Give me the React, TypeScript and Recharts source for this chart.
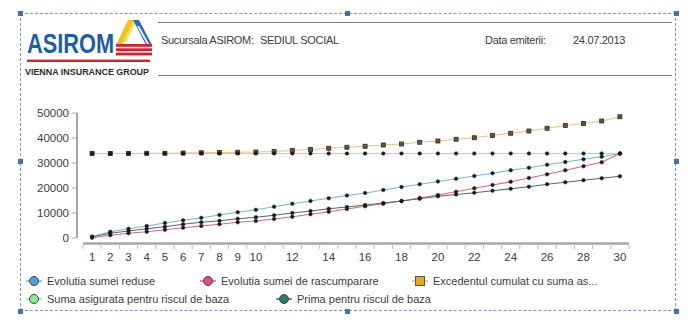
import { LineChart, Line, XAxis, YAxis, Legend } from "recharts";

// ani de asigurare
const YEARS = [1, 2, 3, 4, 5, 6, 7, 8, 9, 10, 11, 12, 13, 14, 15, 16, 17, 18, 19, 20, 21, 22, 23, 24, 25, 26, 27, 28, 29, 30];
const X_LABELS = [1, 2, 3, 4, 5, 6, 7, 8, 9, 10, 12, 14, 16, 18, 20, 22, 24, 26, 28, 30];
const Y_TICKS = [0, 10000, 20000, 30000, 40000, 50000];

const REDUSE = [500, 2500, 3700, 4800, 6000, 7100, 8100, 9200, 10300, 11300, 12500, 13700, 14800, 15900, 17000, 18000, 19200, 20400, 21500, 22600, 23700, 24800, 25900, 27100, 28100, 29300, 30400, 31500, 32500, 33800];
const RASCUMPARARE = [100, 1100, 1900, 2500, 3300, 4100, 4800, 5500, 6300, 6800, 7600, 8500, 9500, 10500, 11600, 12700, 13700, 14800, 16000, 17200, 18500, 19900, 21200, 22500, 24000, 25500, 27100, 28700, 30300, 33800];
const EXCEDENT = [33800, 33800, 33800, 33900, 33900, 34000, 34100, 34200, 34300, 34400, 34600, 35000, 35400, 35900, 36300, 36700, 37200, 37600, 38300, 38800, 39500, 40100, 41000, 41900, 42800, 43900, 45000, 45800, 46800, 48500];
const SUMA_ASIGURATA = [33800, 33800, 33800, 33800, 33800, 33800, 33800, 33800, 33800, 33800, 33800, 33800, 33800, 33800, 33800, 33800, 33800, 33800, 33800, 33800, 33800, 33800, 33800, 33800, 33800, 33800, 33800, 33800, 33800, 33800];
const PRIMA = [500, 1900, 2800, 3700, 4500, 5500, 6300, 6900, 7700, 8300, 9100, 10000, 10800, 11700, 12400, 13200, 14000, 14800, 15700, 16700, 17400, 18100, 18900, 19700, 20500, 21500, 22300, 23100, 23900, 24700];

const data = YEARS.map((an, i) => ({
  an,
  reduse: REDUSE[i],
  rascumparare: RASCUMPARARE[i],
  excedent: EXCEDENT[i],
  suma: SUMA_ASIGURATA[i],
  prima: PRIMA[i],
}));

type Serie = { key: string; name: string; line: string; fill: string; square?: boolean };

const SERIES: Serie[] = [
  { key: "reduse", name: "Evolutia sumei reduse", line: "#7ab4d8", fill: "#4f9fd6" },
  { key: "rascumparare", name: "Evolutia sumei de rascumparare", line: "#e0647e", fill: "#e8506a" },
  { key: "excedent", name: "Excedentul cumulat cu suma as...", line: "#efc27c", fill: "#e9a52c", square: true },
  { key: "suma", name: "Suma asigurata pentru riscul de baza", line: "#9ee89e", fill: "#86ec86" },
  { key: "prima", name: "Prima pentru riscul de baza", line: "#4f6d66", fill: "#2f7a6a" },
];

const LEGEND_ROWS = [
  [0, 1, 2],
  [3, 4],
];
const LEGEND_WIDTHS = [
  [174, 212, 260],
  [250, 260],
];

const HALF = 9.1; // jumatate din pasul categoriei
const TXT = "#3c3c3c";
const AXIS = "#a8a8a8";

function XTick(props: any) {
  const { x, y, payload } = props;
  const v = payload.value;
  return (
    <g>
      <line x1={x - HALF} x2={x - HALF} y1={y - 8} y2={y - 4} stroke="#bdbdbd" />
      {v === 30 && <line x1={x + HALF} x2={x + HALF} y1={y - 8} y2={y - 4} stroke="#bdbdbd" />}
      {X_LABELS.includes(v) && (
        <text x={x} y={y} dy="0.71em" textAnchor="middle" fill={TXT} fontSize={11.5}>
          {v}
        </text>
      )}
    </g>
  );
}

function Marker({ s }: { s: Serie }) {
  return (
    <svg width={16} height={12} style={{ display: "block" }}>
      <line x1={0} x2={16} y1={6} y2={6} stroke={s.line} strokeWidth={1.5} />
      {s.square ? (
        <rect x={3.5} y={1.5} width={9} height={9} fill={s.fill} stroke="#555" strokeWidth={1} />
      ) : (
        <circle cx={8} cy={6} r={4.5} fill={s.fill} stroke="#444" strokeWidth={1} />
      )}
    </svg>
  );
}

function renderLegend() {
  return (
    <div style={{ paddingLeft: 26, fontSize: 11, color: TXT }}>
      {LEGEND_ROWS.map((row, r) => (
        <div key={r} style={{ display: "flex", height: 18, alignItems: "center" }}>
          {row.map((idx, j) => (
            <div key={idx} style={{ width: LEGEND_WIDTHS[r][j], display: "flex", alignItems: "center", gap: 5 }}>
              <Marker s={SERIES[idx]} />
              <span style={{ whiteSpace: "nowrap" }}>{SERIES[idx].name}</span>
            </div>
          ))}
        </div>
      ))}
    </div>
  );
}

function Logo() {
  return (
    <svg width={160} height={80} style={{ position: "absolute", left: 0, top: 0 }}>
      <text x={27} y={53} fontSize={27} fontWeight="bold" fill="#1d5ea8" textLength={87} lengthAdjust="spacingAndGlyphs">
        ASIROM
      </text>
      {/* triunghi */}
      <polygon points="128,20 134,20 122,45 116,45" fill="#f2c318" />
      <polygon points="134,20 137,20 126,42 123,42" fill="#f8db5a" />
      <polygon points="133,20 139,20 152,45 146,45" fill="#2d6db5" />
      <polygon points="137,26 139,26 149,44 147,44" fill="#ffffff" />
      <polygon points="135,31 136.5,31 144,44 142.5,44" fill="#ffffff" />
      <rect x={116} y={44} width={36} height={2.8} fill="#d8202c" />
      <rect x={116} y={48.3} width={36} height={2.8} fill="#d8202c" />
      <rect x={116} y={52.6} width={36} height={2.8} fill="#d8202c" />
      <rect x={27} y={59.6} width={123} height={2.4} fill="#d8202c" />
      <text x={25} y={74.5} fontSize={9.5} fontWeight="bold" fill="#2a2a2a" textLength={124} lengthAdjust="spacingAndGlyphs">
        VIENNA INSURANCE GROUP
      </text>
    </svg>
  );
}

const handle = (left: number, top: number) => (
  <div
    key={`${left}-${top}`}
    style={{ position: "absolute", left: left - 2.5, top: top - 2.5, width: 5, height: 5, background: "#4a6fa5" }}
  />
);

export default function App() {
  return (
    <div
      style={{
        position: "absolute",
        left: 0,
        top: 0,
        width: 700,
        height: 334,
        background: "#fff",
        fontFamily: "'Liberation Sans', Arial, sans-serif",
        color: TXT,
      }}
    >
      <div style={{ position: "absolute", left: 20, top: 13, width: 656, height: 298, border: "1px dashed #7d97c2", boxSizing: "border-box" }} />
      {[handle(20, 13), handle(347, 13), handle(676, 13), handle(20, 161), handle(676, 161), handle(20, 311), handle(347, 311), handle(676, 311)]}

      <Logo />
      <div style={{ position: "absolute", left: 158, top: 22, width: 514, height: 52, borderTop: "1.5px solid #7a7a7a", borderBottom: "1.5px solid #7a7a7a" }} />
      <div style={{ position: "absolute", left: 161, top: 34, fontSize: 11, letterSpacing: -0.3 }}>Sucursala ASIROM:</div>
      <div style={{ position: "absolute", left: 260, top: 34, fontSize: 11, letterSpacing: -0.3 }}>SEDIUL SOCIAL</div>
      <div style={{ position: "absolute", left: 485, top: 34, fontSize: 11, letterSpacing: -0.3 }}>Data emiterii:</div>
      <div style={{ position: "absolute", left: 573, top: 34, fontSize: 11, letterSpacing: -0.3 }}>24.07.2013</div>

      <div style={{ position: "absolute", left: 0, top: 0 }}>
        <LineChart width={700} height={334} data={data} margin={{ top: 113, right: 71, bottom: 76, left: 0 }}>
          <XAxis
            dataKey="an"
            interval={0}
            height={20}
            padding={{ left: HALF, right: HALF }}
            tickLine={false}
            tickSize={6}
            tickMargin={9}
            axisLine={{ stroke: AXIS, strokeWidth: 2.5, transform: "translate(0,5.5)" }}
            tick={(p: any) => <XTick key={p.index} {...p} />}
          />
          <YAxis
            width={83}
            domain={[0, 50000]}
            ticks={Y_TICKS}
            interval={0}
            tickSize={5}
            tickMargin={9}
            tick={{ fill: TXT, fontSize: 11.5 }}
            tickLine={{ stroke: AXIS, transform: "translate(-6,0)" }}
            axisLine={{ stroke: AXIS, strokeWidth: 2, transform: "translate(-6,0)" }}
          />
          <Legend
            layout="horizontal"
            verticalAlign="middle"
            align="center"
            wrapperStyle={{ left: 0, top: 272, width: 700 }}
            content={renderLegend}
          />
          {SERIES.map((s) => (
            <Line
              key={s.key}
              dataKey={s.key}
              name={s.name}
              type="linear"
              stroke={s.line}
              strokeWidth={1.2}
              isAnimationActive={false}
              dot={
                s.square
                  ? (p: any) => (
                      <rect key={p.index} x={p.cx - 2} y={p.cy - 2} width={4} height={4} fill="#5a5a4c" stroke="#2a2a2a" strokeWidth={0.8} />
                    )
                  : { r: 1.8, fill: "#1b1b1b", stroke: "#1b1b1b", strokeWidth: 0.5 }
              }
              activeDot={false}
            />
          ))}
        </LineChart>
      </div>
    </div>
  );
}
